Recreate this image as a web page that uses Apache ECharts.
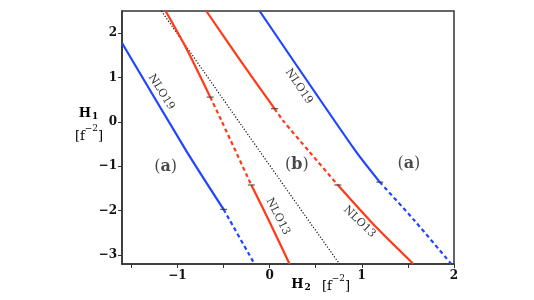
<!DOCTYPE html>
<html><head><meta charset="utf-8">
<script src="https://cdn.jsdelivr.net/npm/echarts@6/dist/echarts.min.js"></script>
<style>html,body{margin:0;padding:0;background:#fff}#c{width:534px;height:300px}</style>
</head><body><div id="c"></div>
<script>
// ---- data ----
const xTicks = [-1.5, -1, -0.5, 0, 0.5, 1, 1.5, 2];
const xLabels = [-1, 0, 1, 2];
const yTicks = [-3, -2, -1, 0, 1, 2];

const blueLeftSolid  = [[-1.6, 1.78], [-0.903, -0.65], [-0.498, -1.97]];
const blueLeftDash   = [[-0.498, -1.97], [-0.163, -3.2]];
const blueRightSolid = [[-0.108, 2.5], [0.926, -0.636], [1.195, -1.355]];
const blueRightDash  = [[1.195, -1.355], [1.571, -2.22], [1.97, -3.2]];

const redLeftSolidTop    = [[-1.127, 2.5], [-0.903, 1.66], [-0.643, 0.56]];
const redLeftDash        = [[-0.643, 0.56], [-0.523, 0.036], [-0.198, -1.42]];
const redLeftSolidBottom = [[-0.198, -1.42], [0.007, -2.28], [0.217, -3.2]];

const redRightSolidTop    = [[-0.686, 2.5], [-0.325, 1.41], [0.054, 0.30]];
const redRightDash        = [[0.054, 0.30], [0.144, 0.036], [0.433, -0.674], [0.74, -1.42]];
const redRightSolidBottom = [[0.74, -1.42], [1.16, -2.38], [1.56, -3.2]];

const blackDotted = [[-1.173, 2.5], [-0.343, 0.038], [0.433, -2.25], [0.759, -3.2]];

const transitions = [[-0.498, -1.97], [1.195, -1.355], [-0.643, 0.56], [-0.198, -1.42], [0.054, 0.30], [0.74, -1.42]];

const curveNames = ['NLO19', 'NLO19', 'NLO13', 'NLO13'];
const curveNameAt = [[-1.173, 0.674], [0.317, 0.80], [0.09, -2.13], [0.975, -2.25]];
const panelNames = ['a', 'b', 'a'];
const panelNameAt = [[-1.127, -1.0], [0.296, -0.97], [1.51, -0.95]];

// ---- styles ----
const BLUE = '#1f45ff', RED = '#ff3a16';
const curveAngles = [-58, -56, -63, -44];
const serif = '"DejaVu Serif", serif';
const fmt = v => String(v).replace('-', '\u2212');

function line(data, color, type, width, z, smooth) {
  return { type: 'line', data, showSymbol: false, symbol: 'none', z: z || 3, smooth: smooth === undefined ? 0.25 : smooth,
    lineStyle: { color, width: width || 2.2, type: type || 'solid', cap: 'butt' }, silent: true, animation: false };
}

const series = [
  line(blackDotted, '#111', [1.2, 1.8], 1.2, 2, false),
  line(blueLeftSolid, BLUE), line(blueLeftDash, BLUE, [4, 3]),
  line(blueRightSolid, BLUE), line(blueRightDash, BLUE, [4, 3]),
  line(redLeftSolidTop, RED), line(redLeftDash, RED, [4, 3]), line(redLeftSolidBottom, RED),
  line(redRightSolidTop, RED), line(redRightDash, RED, [4, 3]), line(redRightSolidBottom, RED),
  { type: 'scatter', data: transitions, symbol: 'rect', symbolSize: [7, 1.2], z: 5,
    itemStyle: { color: '#333' }, silent: true, animation: false },
  { type: 'scatter', symbolSize: 0, z: 6, silent: true, animation: false,
    data: curveNames.map((n, i) => ({ value: curveNameAt[i], name: n,
      label: { show: true, position: 'inside', formatter: n, rotate: curveAngles[i],
        fontFamily: serif, fontSize: 11, color: '#000', align: 'center', verticalAlign: 'middle' } })) },
  { type: 'scatter', symbolSize: 0, z: 6, silent: true, animation: false,
    data: panelNames.map((n, i) => ({ value: panelNameAt[i],
      label: { show: true, position: 'inside', formatter: '{p|(}{b|' + n + '}{p|)}',
        align: 'center', verticalAlign: 'middle',
        rich: { p: { fontFamily: serif, fontSize: 16, color: '#1a1a1a' },
                b: { fontFamily: serif, fontSize: 16, fontWeight: 'bold', color: '#1a1a1a' } } } })) }
];

const richUnit = {
  u: { fontFamily: serif, fontSize: 13, color: '#111', lineHeight: 19, verticalAlign: 'bottom' },
  s: { fontFamily: serif, fontSize: 9, color: '#111', lineHeight: 19, verticalAlign: 'top' }
};
const richH = {
  h: { fontFamily: serif, fontWeight: 'bold', fontSize: 13, color: '#111' },
  d: { fontFamily: serif, fontWeight: 'bold', fontSize: 9, color: '#111', padding: [5, 0, 0, 1] }
};

const chart = echarts.init(document.getElementById('c'), null, { renderer: 'canvas' });
chart.setOption({
  animation: false,
  backgroundColor: '#fff',
  grid: { left: 122, right: 80, top: 11, bottom: 36, show: true, borderColor: '#333', borderWidth: 1.5, backgroundColor: 'transparent' },
  xAxis: { type: 'value', min: -1.6, max: 2,
    axisLine: { show: true, onZero: false, lineStyle: { color: '#333', width: 1.5 } },
    axisTick: { show: true, inside: false, length: 4, customValues: xTicks, lineStyle: { color: '#333', width: 1 } },
    axisLabel: { customValues: xLabels, formatter: fmt, margin: 6, fontFamily: serif, fontWeight: 'bold', fontSize: 12, color: '#111' },
    splitLine: { show: false } },
  yAxis: { type: 'value', min: -3.2, max: 2.5,
    axisLine: { show: true, onZero: false, lineStyle: { color: '#333', width: 1.5 } },
    axisTick: { show: true, inside: false, length: 4, customValues: yTicks, lineStyle: { color: '#333', width: 1 } },
    axisLabel: { customValues: yTicks, formatter: fmt, margin: 5, fontFamily: serif, fontWeight: 'bold', fontSize: 12, color: '#111' },
    splitLine: { show: false } },
  graphic: [
    { type: 'text', x: 88.5, y: 114, style: { text: '{h|H}{d|1}', rich: richH, textAlign: 'center', textVerticalAlign: 'middle' } },
    { type: 'text', x: 89, y: 134, style: { text: '{u|[f}{s|\u22122}{u|]}', rich: richUnit, textAlign: 'center', textVerticalAlign: 'middle' } },
    { type: 'text', x: 301, y: 285, style: { text: '{h|H}{d|2}', rich: richH, textAlign: 'center', textVerticalAlign: 'middle' } },
    { type: 'text', x: 336, y: 284, style: { text: '{u|[f}{s|\u22122}{u|]}', rich: richUnit, textAlign: 'center', textVerticalAlign: 'middle' } }
  ],
  series
});
</script></body></html>
